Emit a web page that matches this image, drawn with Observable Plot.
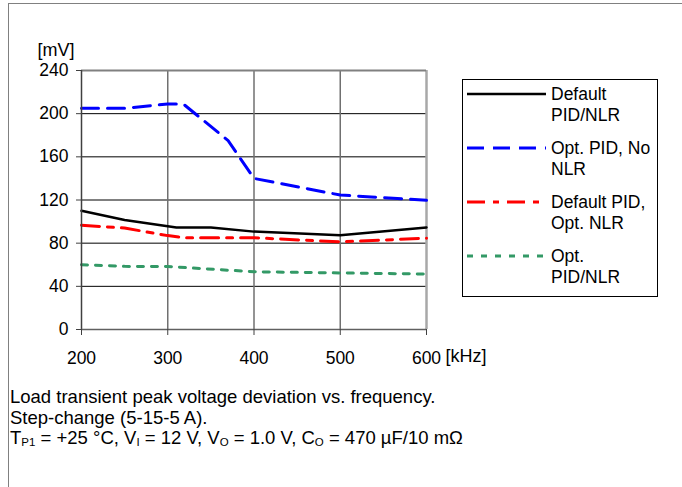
<!DOCTYPE html>
<html>
<head>
<meta charset="utf-8">
<script src="https://cdn.jsdelivr.net/npm/d3@7"></script>
<script src="https://cdn.jsdelivr.net/npm/@observablehq/plot@0.6"></script>
<style>
  html, body { margin: 0; padding: 0; background: #fff; }
  #wrap { position: relative; width: 682px; height: 487px; overflow: hidden; font-family: "Liberation Sans", Arial, sans-serif; }
  #frame { position: absolute; left: 8px; top: 3px; width: 700px; height: 520px; border-left: 1px solid #808080; border-top: 1px solid #808080; }
  #chart { position: absolute; left: 0; top: 0; }
  #legend { position: absolute; left: 0; top: 0; pointer-events: none; }
  #caption { position: absolute; left: 10px; top: 387px; font-size: 18.5px; line-height: 20.5px; color: #000; white-space: nowrap; }
  #caption sub { font-size: 11.5px; line-height: 0; vertical-align: -0.2em; }
</style>
</head>
<body>
<div id="wrap">
  <div id="frame"></div>
  <div id="chart"></div>
  <svg id="legend" width="682" height="487"></svg>
  <div id="caption">Load transient peak voltage deviation vs. frequency.<br>Step-change (5-15-5 A).<br>T<sub>P1</sub> = +25 °C, V<sub>I</sub> = 12 V, V<sub>O</sub> = 1.0 V, C<sub>O</sub> = 470 µF/10 mΩ</div>
</div>
<script>
// ---- data ----
const xTicks = [200, 300, 400, 500, 600];
const yTicks = [0, 40, 80, 120, 160, 200, 240];

const defaultFreq = [200, 250, 310, 350, 400, 500, 600];
const defaultVal  = [110, 101.5, 94.5, 94.5, 90.7, 87.3, 94.5];

const optPidNoNlrFreq = [200, 250, 300, 318, 370, 400, 500, 600];
const optPidNoNlrVal  = [205, 205, 209, 209, 175, 140, 124.6, 119.7];

const defPidOptNlrFreq = [200, 250, 300, 320, 400, 500, 600];
const defPidOptNlrVal  = [96.6, 94, 87, 85, 85, 81.2, 84.6];

const optPidNlrFreq = [200, 250, 300, 400, 500, 600];
const optPidNlrVal  = [60, 58.5, 58.4, 53.5, 52.4, 51.4];

const seriesNames = [
  ["Default", "PID/NLR"],
  ["Opt. PID, No", "NLR"],
  ["Default PID,", "Opt. NLR"],
  ["Opt.", "PID/NLR"]
];
const seriesColors = ["#000000", "#0000ff", "#ff0000", "#339966"];
const seriesDash = [null, "17,9", "18,8,6,8", "6,8"];
const seriesWidth = [2.5, 3, 3, 3];

const seriesData = [
  [defaultFreq, defaultVal],
  [optPidNoNlrFreq, optPidNoNlrVal],
  [defPidOptNlrFreq, defPidOptNlrVal],
  [optPidNlrFreq, optPidNlrVal]
].map(([xs, ys]) => xs.map((f, i) => ({f, v: ys[i]})));

const lineMarks = seriesData.map((d, i) => Plot.line(d, {
  x: "f", y: "v",
  stroke: seriesColors[i],
  strokeWidth: seriesWidth[i],
  strokeDasharray: seriesDash[i] || undefined,
  strokeLinejoin: "round"
}));

const chart = Plot.plot({
  width: 682,
  height: 380,
  marginLeft: 81,
  marginRight: 256,
  marginTop: 70,
  marginBottom: 51,
  x: {domain: [200, 600]},
  y: {domain: [0, 240]},
  style: {fontFamily: "'Liberation Sans', Arial, sans-serif", fontSize: "17px", color: "#000", background: "transparent", overflow: "visible"},
  marks: [
    Plot.ruleY([40, 80, 120, 160, 200], {stroke: "#000", strokeWidth: 1}),
    Plot.ruleX([300, 400, 500], {stroke: "#707070", strokeWidth: 1.5}),
    Plot.ruleX([600], {stroke: "#a8a8a8", strokeWidth: 2.5}),
    Plot.ruleY([240], {stroke: "#808080", strokeWidth: 2}),
    ...lineMarks,
    Plot.ruleX([200], {stroke: "#404040", strokeWidth: 1.5}),
    Plot.ruleY([0], {stroke: "#606060", strokeWidth: 1.5}),
    Plot.axisY({ticks: yTicks, tickSize: 5, tickPadding: 8, label: null, stroke: "#404040", fontSize: 17.5}),
    Plot.axisX({ticks: xTicks, tickSize: 6, tickPadding: 16, label: null, stroke: "#404040", fontSize: 17.5}),
    Plot.text(["[kHz]"], {x: () => 600, frameAnchor: "bottom", dy: 32, dx: 19, textAnchor: "start", text: d => d, fontSize: 18, fill: "#000"}),
    Plot.text(["[mV]"], {frameAnchor: "top-left", dx: -44, dy: -27, textAnchor: "start", text: d => d, fontSize: 18, fill: "#000"})
  ]
});
document.getElementById("chart").appendChild(chart);

// ---- legend ----
const lg = d3.select("#legend");
lg.append("rect").attr("x", 462.5).attr("y", 79.5).attr("width", 195).attr("height", 217)
  .attr("fill", "none").attr("stroke", "#000").attr("stroke-width", 1);
seriesNames.forEach((lines, i) => {
  const y = 94 + 54 * i;
  lg.append("line").attr("x1", 467).attr("x2", 546).attr("y1", y).attr("y2", y)
    .attr("stroke", seriesColors[i]).attr("stroke-width", seriesWidth[i])
    .attr("stroke-dasharray", seriesDash[i]);
  lines.forEach((t, j) => {
    lg.append("text").attr("x", 551).attr("y", y + 6 + 21 * j)
      .attr("font-family", "'Liberation Sans', Arial, sans-serif").attr("font-size", 17.5)
      .attr("fill", "#000").text(t);
  });
});
</script>
</body>
</html>
